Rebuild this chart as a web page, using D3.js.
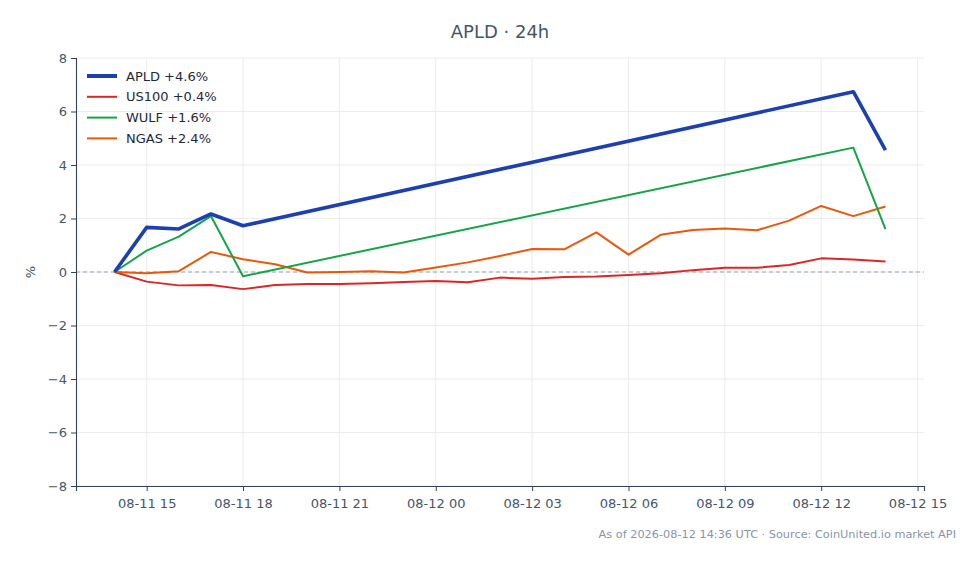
<!DOCTYPE html>
<html>
<head>
<meta charset="utf-8">
<script src="https://cdn.jsdelivr.net/npm/d3@7"></script>
<style>
  body { margin: 0; background: #fff; }
  svg { display: block; font-family: "DejaVu Sans", sans-serif; }
</style>
</head>
<body>
<svg id="chart"></svg>
<script>
var width = 980, height = 564;
var margin = { top: 58, right: 56, bottom: 78, left: 76 };

// hourly timestamps, UTC
var times = [
  "2026-08-11 14:00", "2026-08-11 15:00", "2026-08-11 16:00", "2026-08-11 17:00",
  "2026-08-11 18:00", "2026-08-11 19:00", "2026-08-11 20:00", "2026-08-11 21:00",
  "2026-08-11 22:00", "2026-08-11 23:00", "2026-08-12 00:00", "2026-08-12 01:00",
  "2026-08-12 02:00", "2026-08-12 03:00", "2026-08-12 04:00", "2026-08-12 05:00",
  "2026-08-12 06:00", "2026-08-12 07:00", "2026-08-12 08:00", "2026-08-12 09:00",
  "2026-08-12 10:00", "2026-08-12 11:00", "2026-08-12 12:00", "2026-08-12 13:00",
  "2026-08-12 14:00"
];

// % change, null = no quote that hour
var apld = [0, 1.67, 1.61, 2.17, 1.73, null, null, null, null, null, null, null,
  null, null, null, null, null, null, null, null, null, null, null, 6.74, 4.56];
var us100 = [0, -0.36, -0.50, -0.49, -0.64, -0.49, -0.45, -0.45, -0.42, -0.37, -0.34, -0.38,
  -0.21, -0.25, -0.19, -0.17, -0.11, -0.05, 0.07, 0.16, 0.16, 0.26, 0.51, 0.47, 0.39];
var wulf = [0, 0.80, 1.32, 2.09, -0.16, null, null, null, null, null, null, null,
  null, null, null, null, null, null, null, null, null, null, null, 4.65, 1.60];
var ngas = [0, -0.05, 0.03, 0.75, 0.48, 0.29, -0.02, 0.0, 0.03, -0.02, 0.17, 0.36,
  0.60, 0.86, 0.85, 1.48, 0.65, 1.39, 1.57, 1.63, 1.56, 1.92, 2.47, 2.09, 2.45];

var seriesNames = ["APLD +4.6%", "US100 +0.4%", "WULF +1.6%", "NGAS +2.4%"];
var seriesColors = ["#1e40af", "#dc2626", "#16a34a", "#ea580c"];
var seriesWidths = [3.6, 2, 2, 2];
var yTicks = [-8, -6, -4, -2, 0, 2, 4, 6, 8];
var xTickTimes = ["2026-08-11 15:00", "2026-08-11 18:00", "2026-08-11 21:00",
  "2026-08-12 00:00", "2026-08-12 03:00", "2026-08-12 06:00", "2026-08-12 09:00",
  "2026-08-12 12:00", "2026-08-12 15:00"];

var parse = d3.utcParse("%Y-%m-%d %H:%M");
var dates = times.map(parse);

var svg = d3.select("#chart")
  .attr("width", width)
  .attr("height", height);

var x = d3.scaleUtc()
  .domain([parse("2026-08-11 12:48"), parse("2026-08-12 15:12")])
  .range([margin.left, width - margin.right]);

var y = d3.scaleLinear()
  .domain([-8, 8])
  .range([height - margin.bottom, margin.top]);

var axisColor = "#334155";
var labelColor = "#475569";

// grid
var grid = svg.append("g");
grid.selectAll("line.gy")
  .data(yTicks)
  .enter()
  .append("line")
  .attr("x1", margin.left).attr("x2", width - margin.right)
  .attr("y1", function (d) { return y(d); })
  .attr("y2", function (d) { return y(d); })
  .attr("stroke", "#e5e7eb").attr("stroke-width", 0.8);
grid.selectAll("line.gx")
  .data(xTickTimes.map(parse))
  .enter()
  .append("line")
  .attr("y1", margin.top).attr("y2", height - margin.bottom)
  .attr("x1", function (d) { return x(d); })
  .attr("x2", function (d) { return x(d); })
  .attr("stroke", "#e5e7eb").attr("stroke-width", 0.8);

// zero line
svg.append("line")
  .attr("x1", margin.left).attr("x2", width - margin.right)
  .attr("y1", y(0)).attr("y2", y(0))
  .attr("stroke", "#94a3b8")
  .attr("stroke-width", 1.1)
  .attr("stroke-dasharray", "4,3");

// axes
var yAxis = svg.append("g")
  .attr("transform", "translate(" + margin.left + ",0)")
  .call(d3.axisLeft(y).tickValues(yTicks).tickSize(5).tickPadding(4)
    .tickFormat(function (d) { return d < 0 ? "\u2212" + Math.abs(d) : d; }));
var xAxis = svg.append("g")
  .attr("transform", "translate(0," + (height - margin.bottom) + ")")
  .call(d3.axisBottom(x).tickValues(xTickTimes.map(parse)).tickSize(5).tickPadding(8)
    .tickFormat(d3.utcFormat("%m-%d %H")));

[xAxis, yAxis].forEach(function (a) {
  a.select(".domain").attr("stroke", axisColor).attr("stroke-width", 1.1);
  a.selectAll(".tick line").attr("stroke", axisColor).attr("stroke-width", 1);
  a.selectAll(".tick text")
    .attr("fill", labelColor)
    .style("font-size", "13px")
    .style("font-family", "DejaVu Sans, sans-serif");
});

// lines
var allSeries = [apld, us100, wulf, ngas];
var line = d3.line()
  .x(function (d) { return x(d.t); })
  .y(function (d) { return y(d.v); });

// draw back to front: APLD last on top
[1, 3, 2, 0].forEach(function (i) {
  var pts = dates.map(function (t, k) { return { t: t, v: allSeries[i][k] }; })
    .filter(function (d) { return d.v !== null; });
  svg.append("path")
    .datum(pts)
    .attr("d", line)
    .attr("fill", "none")
    .attr("stroke", seriesColors[i])
    .attr("stroke-width", seriesWidths[i])
    .attr("stroke-linejoin", "round")
    .attr("stroke-linecap", "butt");
});

// legend
var legend = svg.append("g");
seriesNames.forEach(function (name, i) {
  var ly = 76 + i * 20.8;
  legend.append("line")
    .attr("x1", 87).attr("x2", 117)
    .attr("y1", ly).attr("y2", ly)
    .attr("stroke", seriesColors[i])
    .attr("stroke-width", seriesWidths[i] + (i === 0 ? 0.4 : 0));
  legend.append("text")
    .attr("x", 126).attr("y", ly)
    .attr("dy", "0.35em")
    .attr("fill", "#1f2937")
    .style("font-size", "13px")
    .text(name);
});

// title and labels
svg.append("text")
  .attr("x", (margin.left + width - margin.right) / 2)
  .attr("y", 38)
  .attr("text-anchor", "middle")
  .attr("fill", "#475569")
  .style("font-size", "18px")
  .text("APLD \u00b7 24h");

svg.append("text")
  .attr("transform", "translate(35," + y(0) + ") rotate(-90)")
  .attr("text-anchor", "middle")
  .attr("fill", labelColor)
  .style("font-size", "13px")
  .text("%");

svg.append("text")
  .attr("x", 956)
  .attr("y", 538)
  .attr("text-anchor", "end")
  .attr("fill", "#8a94a6")
  .style("font-size", "11.3px")
  .text("As of 2026-08-12 14:36 UTC \u00b7 Source: CoinUnited.io market API");
</script>
</body>
</html>
